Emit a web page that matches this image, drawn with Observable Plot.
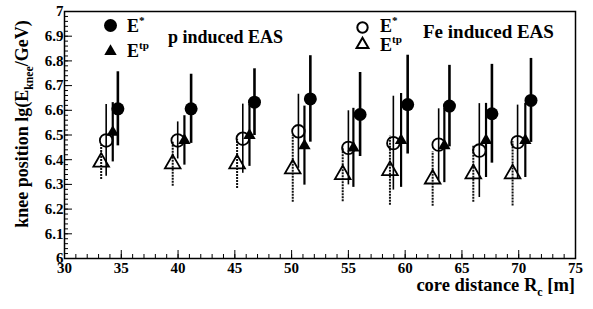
<!DOCTYPE html>
<html><head><meta charset="utf-8">
<script src="https://cdn.jsdelivr.net/npm/d3@7"></script>
<script src="https://cdn.jsdelivr.net/npm/@observablehq/plot@0.6"></script>
<style>
body{margin:0;background:#fff}
#chart{width:593px;height:309px}
</style>
</head><body><div id="chart"></div><script>
// Proton-induced EAS, E* (filled circles)
const pStarX = [34.7, 41.15, 46.73, 51.65, 56.03, 60.22, 63.9, 67.64, 71.08];
const pStarY = [6.606, 6.606, 6.633, 6.646, 6.583, 6.623, 6.617, 6.586, 6.64];
const pStarE = [0.15, 0.14, 0.135, 0.175, 0.17, 0.2, 0.165, 0.2, 0.17];
// Proton-induced EAS, Etp (filled triangles)
const pTpX = [34.25, 40.56, 46.29, 51.13, 55.44, 59.64, 63.45, 67.12, 70.58];
const pTpY = [6.511, 6.478, 6.498, 6.457, 6.448, 6.478, 6.457, 6.478, 6.478];
const pTpE = [0.12, 0.1, 0.125, 0.16, 0.16, 0.19, 0.15, 0.15, 0.15];
// Fe-induced EAS, E* (open circles)
const feStarX = [33.67, 39.97, 45.7, 50.6, 55.0, 58.96, 62.95, 66.53, 69.9];
const feStarY = [6.478, 6.478, 6.485, 6.515, 6.448, 6.467, 6.461, 6.437, 6.471];
const feStarE = [0.145, 0.075, 0.14, 0.15, 0.15, 0.19, 0.145, 0.19, 0.15];
// Fe-induced EAS, Etp (open triangles)
const feTpX = [33.23, 39.53, 45.2, 50.1, 54.5, 58.66, 62.42, 66.0, 69.46];
const feTpY = [6.39, 6.383, 6.383, 6.363, 6.34, 6.356, 6.322, 6.343, 6.343];
const feTpE = [0.07, 0.09, 0.1, 0.135, 0.11, 0.14, 0.11, 0.115, 0.13];

const xMajor = [30, 35, 40, 45, 50, 55, 60, 65, 70, 75];
const xMinor = d3.range(30, 76, 1);
const yMajor = [6, 6.1, 6.2, 6.3, 6.4, 6.5, 6.6, 6.7, 6.8, 6.9, 7];
const yMinor = d3.range(0, 51).map(i => +(6 + i * 0.02).toFixed(2));

const toRows = (xs, ys, es) => xs.map((x, i) => ({x, y: ys[i], lo: ys[i] - es[i], hi: ys[i] + es[i]}));
const pStar = toRows(pStarX, pStarY, pStarE);
const pTp = toRows(pTpX, pTpY, pTpE);
const feStar = toRows(feStarX, feStarY, feStarE);
const feTp = toRows(feTpX, feTpY, feTpE);

const font = "'Liberation Serif', 'Times New Roman', serif";
const yFmt = d => (d === 6 || d === 7) ? String(d) : d.toFixed(1);

const plot = Plot.plot({
  width: 593, height: 309,
  marginLeft: 64, marginRight: 18, marginTop: 11, marginBottom: 51,
  style: {background: "white", color: "black", overflow: "visible"},
  x: {domain: [30, 75], label: null},
  y: {domain: [6, 7], label: null},
  marks: [
    Plot.axisX({ticks: xMinor, tickSize: -4, tickFormat: () => "", label: null}),
    Plot.axisX({ticks: xMajor, tickSize: -8, tickFormat: () => "", label: null}),
    Plot.axisX({ticks: xMajor, tickSize: 0, tickPadding: 4, label: null}),
    Plot.axisY({ticks: yMinor, tickSize: -4, tickFormat: () => "", label: null}),
    Plot.axisY({ticks: yMajor, tickSize: -8, tickFormat: () => "", label: null}),
    Plot.axisY({ticks: yMajor, tickSize: 0, tickPadding: 1, tickFormat: yFmt, label: null}),
    Plot.frame({strokeWidth: 1.5}),
    // error bars
    Plot.ruleX(feTp, {x: "x", y1: "lo", y2: "hi", stroke: "#111", strokeWidth: 2, strokeDasharray: "2,1"}),
    Plot.ruleX(feStar, {x: "x", y1: "lo", y2: "hi", stroke: "black", strokeWidth: 1.6}),
    Plot.ruleX(pTp, {x: "x", y1: "lo", y2: "hi", stroke: "black", strokeWidth: 2.2}),
    Plot.ruleX(pStar, {x: "x", y1: "lo", y2: "hi", stroke: "black", strokeWidth: 2.6}),
    // markers
    Plot.dot(feTp, {x: "x", y: "y", symbol: "triangle", r: 5.8, stroke: "black", strokeWidth: 1.8, fill: "none"}),
    Plot.dot(feStar, {x: "x", y: "y", symbol: "circle", r: 6.3, stroke: "black", strokeWidth: 1.8, fill: "none"}),
    Plot.dot(pTp, {x: "x", y: "y", symbol: "triangle", r: 4.6, fill: "black", stroke: "none"}),
    Plot.dot(pStar, {x: "x", y: "y", symbol: "circle", r: 6.5, fill: "black", stroke: "none"}),
    // legend symbols
    Plot.dot([0], {frameAnchor: "top-left", dx: 46, dy: 14, symbol: "circle", r: 6.5, fill: "black", stroke: "none"}),
    Plot.dot([0], {frameAnchor: "top-left", dx: 46, dy: 40, symbol: "triangle", r: 4.6, fill: "black", stroke: "none"}),
    Plot.dot([0], {frameAnchor: "top-left", dx: 298, dy: 16, symbol: "circle", r: 5.2, stroke: "black", strokeWidth: 2, fill: "none"}),
    Plot.dot([0], {frameAnchor: "top-left", dx: 298, dy: 33, symbol: "triangle", r: 4.4, stroke: "black", strokeWidth: 2, fill: "none"})
  ]
});
document.getElementById("chart").appendChild(plot);

const svg = d3.select(plot);
// serif bold tick labels
svg.selectAll("g[aria-label$='tick label'] text")
  .style("font-family", font).style("font-weight", "bold").style("font-size", "15px");

function label(x, y, parts, size, anchor = "start", rotate = 0) {
  const t = svg.append("text")
    .attr("transform", `translate(${x},${y})` + (rotate ? ` rotate(${rotate})` : ""))
    .attr("text-anchor", anchor)
    .style("font-family", font).style("font-weight", "bold")
    .style("font-size", size + "px")
    .attr("fill", "black");
  let shift = 0;
  for (const [txt, kind] of parts) {
    const s = t.append("tspan").text(txt);
    let target = 0;
    if (kind === "sup") { target = -size * 0.42; s.style("font-size", (size * 0.62) + "px"); }
    if (kind === "sub") { target = size * 0.25; s.style("font-size", (size * 0.65) + "px"); }
    s.attr("dy", target - shift);
    shift = target;
  }
  return t;
}
label(28, 124, [["knee position lg(E"], ["knee", "sub"], ["/GeV)"]], 18, "middle", -90);
label(575, 291, [["core distance R"], ["c", "sub"], [" [m]"]], 18.5, "end");
label(127, 32, [["E"], ["*", "sup"]], 18);
label(127, 57, [["E"], ["tp", "sup"]], 18);
label(168, 43, [["p induced EAS"]], 18);
label(380, 32, [["E"], ["*", "sup"]], 18);
label(380, 51, [["E"], ["tp", "sup"]], 18);
label(423, 38, [["Fe induced EAS"]], 19);
</script></body></html>
